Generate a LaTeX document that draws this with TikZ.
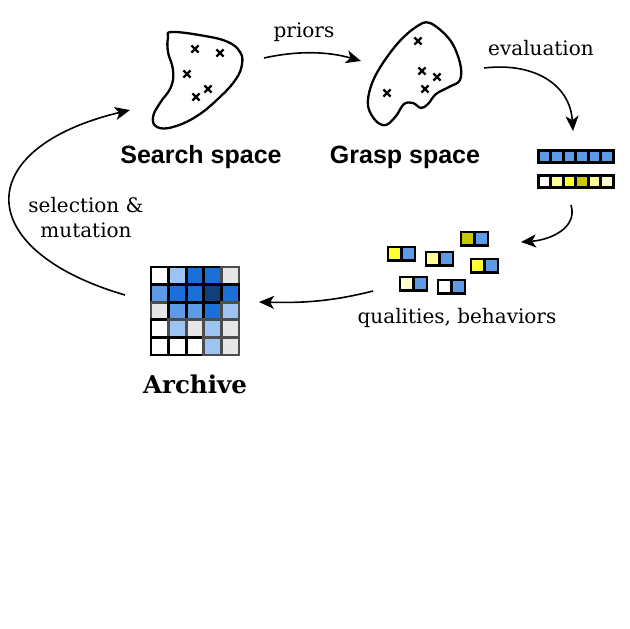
\documentclass[tikz,border=0pt]{standalone}
\usepackage{fontspec}
\setmainfont{DejaVu Serif}
\newfontfamily\spacefont{Liberation Sans}
\usetikzlibrary{arrows.meta}
\definecolor{qblue}{HTML}{5E9BE6}
\definecolor{lblue}{HTML}{9CC3F2}
\definecolor{dblue}{HTML}{1A6FD9}
\definecolor{nblue}{HTML}{113F7C}
\definecolor{lgray}{HTML}{E6E6E6}
\definecolor{yel}{HTML}{FFFF33}
\definecolor{lyel}{HTML}{FFFF99}
\definecolor{pyel}{HTML}{FFFFCC}
\definecolor{olive}{HTML}{C8C800}
\definecolor{gline}{HTML}{4D4D4D}
\tikzset{
  blob/.style={line width=2.3pt, line join=round},
  cross/.style={line width=2.2pt},
  flow/.style={line width=1.6pt, -{Stealth[length=15pt,width=13pt,inset=4pt]}},
  edgelabel/.style={font=\fontsize{20}{25}\selectfont, inner sep=0pt},
  spacelabel/.style={font=\spacefont\bfseries\fontsize{25}{29}\selectfont, inner sep=0pt},
  cell/.style={draw=black, line width=2.8pt, minimum size=12.5pt, inner sep=0pt},
  acell/.style={line width=2.8pt, minimum size=17.6pt, inner sep=0pt},
}
\begin{document}
\begin{tikzpicture}[x=1pt,y=-1pt]
\useasboundingbox[fill=white] (0,0) rectangle (630,629);

% search space region
\draw[blob] plot[smooth cycle, tension=0.7] coordinates {
  (172,32) (205,36) (228,42) (240,52) (242,64) (236,79) (220,97) (197,116)
  (173,127) (157,127) (153,117) (160,103) (171,87) (173,70) (168,52) (168,38)};
\foreach \p in {(195,49),(220,53),(187,74),(208,89),(196,97)}
  \draw[cross] \p ++(-3.6,-3.6) -- ++(7.2,7.2) \p ++(-3.6,3.6) -- ++(7.2,-7.2);
\node[spacelabel] (search) at (201,157) {Search space};

% grasp space region
\draw[blob] plot[smooth cycle, tension=0.6] coordinates {
  (430,23) (450,40) (460,63) (460,80) (449,87) (436,94) (428,104) (421,108)
  (413,103) (404,104) (396,116) (386,125) (376,121) (368,106) (371,86) (381,66)
  (398,43) (416,27)};
\foreach \p in {(418,41),(422,71),(437,77),(425,89),(387,93)}
  \draw[cross] \p ++(-3.6,-3.6) -- ++(7.2,7.2) \p ++(-3.6,3.6) -- ++(7.2,-7.2);
\node[spacelabel] (grasp) at (405,157) {Grasp space};

% evaluation bars
\foreach \c [count=\i from 0] in {qblue,qblue,qblue,qblue,qblue,qblue}
  \node[cell, fill=\c] (b\i) at (544.5+12.5*\i,156.5) {};
\foreach \c [count=\i from 0] in {white,lyel,yel,olive,lyel,pyel}
  \node[cell, fill=\c] (y\i) at (544.5+12.5*\i,181.5) {};

% quality / behavior pairs
\foreach \x/\y/\c [count=\k] in {388/247/yel, 426/252/lyel, 461/232/olive, 471/259/yel, 400/277/pyel, 438/280/white}{
  \node[cell, minimum size=13.5pt, fill=\c] (q\k) at (\x+6.75,\y+6.75) {};
  \node[cell, minimum size=13.5pt, fill=qblue] (p\k) at (\x+20.25,\y+6.75) {};
}
\node[edgelabel] (qb) at (457,318) {qualities, behaviors};

% archive grid
\foreach \row [count=\r from 0] in {
  {white/black,lblue/black,dblue/black,dblue/black,lgray/gline},
  {qblue/black,dblue/black,dblue/black,nblue/black,dblue/black},
  {lgray/gline,qblue/black,qblue/black,dblue/black,lblue/gline},
  {white/black,lblue/gline,lgray/gline,lblue/gline,lgray/gline},
  {white/black,white/black,white/black,lblue/gline,lgray/gline}}
  \foreach \f/\d [count=\c from 0] in \row
    \node[acell, fill=\f, draw=\d] (a\r\c) at (159.8+17.6*\c,275.8+17.6*\r) {};
\node[font=\bfseries\fontsize{24.5}{29}\selectfont, inner sep=0pt] (archive) at (195,384) {Archive};

% loop connectors
\coordinate (s1) at (264,58);   \coordinate (e1) at (361,61);
\coordinate (s2) at (484,68);   \coordinate (e2) at (573,131);
\coordinate (s3) at (571,205);  \coordinate (e3) at (521,242);
\coordinate (s4) at (373,291);  \coordinate (e4) at (259,302);
\coordinate (s5) at (125,295);  \coordinate (e5) at (130,110);

\draw[flow] (s1) .. controls (300,50) and (330,52) .. (e1);
\node[edgelabel] (priors) at (304,32) {priors};
\draw[flow] (s2) .. controls (535,62) and (570,85) .. (e2);
\node[edgelabel] (evaluation) at (541,48) {evaluation};
\draw[flow] (s3) .. controls (578,228) and (550,240) .. (e3);
\draw[flow] (s4) .. controls (330,302) and (300,303) .. (e4);
\draw[flow] (s5) .. controls (-29,250) and (-29,148) .. (e5);
\node[edgelabel, align=center] (selmut) at (86,218) {selection \&\\mutation};
\end{tikzpicture}
\end{document}
